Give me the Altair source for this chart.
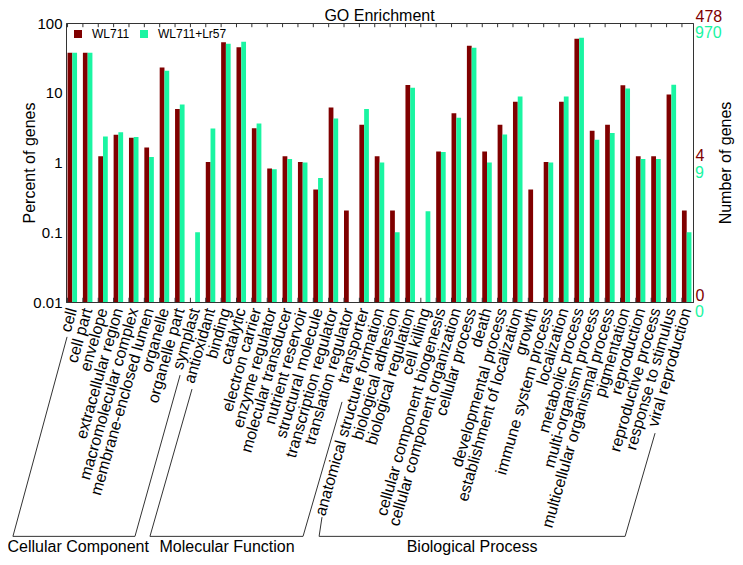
import altair as alt
import pandas as pd

# ---------------- data ----------------
categories = [
    "cell", "cell part", "envelope", "extracellular region", "macromolecular complex",
    "membrane-enclosed lumen", "organelle", "organelle part", "symplast",
    "antioxidant", "binding", "catalytic", "electron carrier", "enzyme regulator",
    "molecular transducer", "nutrient reservoir", "structural molecule",
    "transcription regulator", "translation regulator", "transporter",
    "anatomical structure formation", "biological adhesion", "biological regulation",
    "cell killing", "cellular component biogenesis", "cellular component organization",
    "cellular process", "death", "developmental process", "establishment of localization",
    "growth", "immune system process", "localization", "metabolic process",
    "multi-organism process", "multicellular organismal process", "pigmentation",
    "reproduction", "reproductive process", "response to stimulus", "viral reproduction",
]
wl711 = [37.5, 37.5, 1.23, 2.5, 2.26, 1.64, 23.1, 5.83, None,
         1.02, 52.8, 44.8, 3.1, 0.82, 1.23, 1.02, 0.41, 6.16, 0.205, 3.47,
         1.23, 0.205, 12.9, None, 1.44, 5.1, 47.3, 1.44, 3.47, 7.43, 0.41, 1.02,
         7.43, 59.6, 2.85, 3.47, 12.8, 1.23, 1.23, 9.46, 0.205]
wl711_lr57 = [37.5, 37.5, 2.36, 2.72, 2.33, 1.2, 20.7, 6.8, 0.1,
              3.08, 50.5, 54.0, 3.63, 0.8, 1.12, 1.0, 0.6, 4.28, None, 5.83,
              1.0, 0.1, 11.8, 0.2, 1.42, 4.38, 44.3, 1.0, 2.52, 8.85, None, 1.0,
              8.85, 61.6, 2.12, 2.64, 11.5, 1.12, 1.12, 13.0, 0.1]
series_names = ["WL711", "WL711+Lr57"]

left_ticks = [100, 10, 1, 0.1, 0.01]
right_tick_pos = [100, 1, 0.01]
right_labels_wl711 = ["478", "4", "0"]
right_labels_lr57 = ["970", "9", "0"]

group_names = ["Cellular Component", "Molecular Function", "Biological Process"]
group_label_x = [0.8, 10.53, 26.55]           # in category-index units
group_label_y = [-0.895, -0.895, -0.895]      # in plot-height units
bracket_x = [[0.07, -3.47, 4.51, 7.46],
             [8.24, 5.49, 15.5, 18.05],
             [16.74, 16.55, 36.56, 38.52]]
bracket_y = [[-0.125, -0.84, -0.84, -0.262],
             [-0.312, -0.84, -0.84, -0.358],
             [-0.771, -0.84, -0.84, -0.47]]

RED = "#800000"
GREEN = "#1af5a2"
FONT = "Liberation Sans"
W, H = 627, 279

# ---------------- tables ----------------
rows = []
for c, a, b in zip(categories, wl711, wl711_lr57):
    if a is not None:
        rows.append({"category": c, "series": series_names[0], "pct": a})
    if b is not None:
        rows.append({"category": c, "series": series_names[1], "pct": b})
bars_df = pd.DataFrame(rows)
cat_df = pd.DataFrame({"category": categories})

right_df = pd.DataFrame({"v": right_tick_pos, "red": right_labels_wl711, "green": right_labels_lr57})

br_rows = []
for g, xs, ys in zip(group_names, bracket_x, bracket_y):
    for i, (bx, by) in enumerate(zip(xs, ys)):
        br_rows.append({"group": g, "o": i, "bx": bx, "by": by})
br_df = pd.DataFrame(br_rows)
gl_df = pd.DataFrame({"group": group_names, "gx": group_label_x, "gy": group_label_y})

ylog = alt.Scale(type="log", domain=[0.01, 100])
xband = alt.Scale(paddingInner=0.38, paddingOuter=0.1)
ux = alt.Scale(domain=[0, len(categories)], range=[0, W])
uy = alt.Scale(domain=[0, 1], range=[H, 0])

label_expr = " : ".join(
    f"datum.value >= {v} ? '{t}'" for v, t in zip(right_tick_pos[:-1], right_labels_wl711[:-1])
) + f" : '{right_labels_wl711[-1]}'"

bars = alt.Chart(bars_df).mark_bar().encode(
    x=alt.X("category:N", sort=categories, scale=xband,
            axis=alt.Axis(title=None, labelAngle=286, labelAlign="right", labelBaseline="middle",
                          labelFontSize=16, labelFont=FONT, labelColor="#000", labelPadding=6,
                          ticks=False, labelLimit=400, labelOverlap=False,
                          domainColor="#333")),
    xOffset=alt.XOffset("series:N", sort=series_names, scale=alt.Scale(paddingInner=0)),
    y=alt.Y("pct:Q", scale=ylog,
            axis=alt.Axis(title="Percent of genes", values=left_ticks, format="~g",
                          labelFontSize=15, labelFont=FONT, labelColor="#000", ticks=False,
                          labelPadding=4, titleFontSize=16, titleFont=FONT,
                          titleFontWeight="normal", titleColor="#000", titlePadding=-5,
                          grid=False, domainColor="#333")),
    y2=alt.Y2(datum=0.01),
    color=alt.Color("series:N", sort=series_names,
                    scale=alt.Scale(domain=series_names, range=[RED, GREEN]),
                    legend=alt.Legend(title=None, orient="none", legendX=6, legendY=5,
                                      direction="horizontal", symbolType="square",
                                      symbolSize=64, symbolStrokeWidth=0, labelFontSize=12,
                                      labelFont=FONT, labelColor="#000", columnPadding=8,
                                      labelOffset=8)),
)

# small inward ticks along the top and bottom frame
top_ticks = alt.Chart(cat_df).mark_rule(color="#333", strokeWidth=1).encode(
    x=alt.X("category:N", sort=categories, scale=xband, bandPosition=0, axis=None),
    y=alt.Y(datum=100, scale=ylog, axis=None),
    y2=alt.Y2(datum=87),
)
bottom_ticks = alt.Chart(cat_df).mark_rule(color="#333", strokeWidth=1).encode(
    x=alt.X("category:N", sort=categories, scale=xband, bandPosition=0, axis=None),
    y=alt.Y(datum=0.01, scale=ylog, axis=None),
    y2=alt.Y2(datum=0.0115),
)

right_axis = alt.Chart(right_df).mark_point(opacity=0).encode(
    y=alt.Y("v:Q", scale=ylog,
            axis=alt.Axis(orient="right", title="Number of genes", values=right_tick_pos,
                          labelExpr=label_expr, labelColor=RED, labelFontSize=16,
                          labelFont=FONT, labelBaseline="alphabetic", labelOffset=-2,
                          labelPadding=2, ticks=False, grid=False, domainColor="#333",
                          titleFontSize=16, titleFont=FONT, titleFontWeight="normal",
                          titleColor="#000", titleAngle=270, titlePadding=12)),
)

right_green = alt.Chart(right_df).mark_text(
    align="left", baseline="top", dy=2, color=GREEN, fontSize=16, font=FONT
).encode(
    y=alt.Y("v:Q", scale=ylog, axis=None),
    x=alt.value(W + 2),
    text="green:N",
)

brackets = alt.Chart(br_df).mark_line(color="#333", strokeWidth=1).encode(
    x=alt.X("bx:Q", scale=ux, axis=None),
    y=alt.Y("by:Q", scale=uy, axis=None),
    detail="group:N",
    order="o:Q",
)

group_labels = alt.Chart(gl_df).mark_text(
    align="center", baseline="alphabetic", fontSize=16, font=FONT, color="#000"
).encode(
    x=alt.X("gx:Q", scale=ux, axis=None),
    y=alt.Y("gy:Q", scale=uy, axis=None),
    text="group:N",
)

chart = alt.layer(bars, right_axis, right_green, brackets, group_labels,
                  top_ticks, bottom_ticks).resolve_scale(
    x="independent", y="independent"
).properties(
    width=W, height=H,
    title=alt.Title("GO Enrichment", fontSize=16, fontWeight="normal", font=FONT,
                    color="#000", offset=5, dy=21),
    padding={"left": 58, "top": 15, "right": 42, "bottom": 255},
    autosize=alt.AutoSizeParams(type="none"),
).configure_view(stroke="#333", strokeWidth=1)

chart.save("out.html", embed_options={"renderer": "svg", "actions": False})
